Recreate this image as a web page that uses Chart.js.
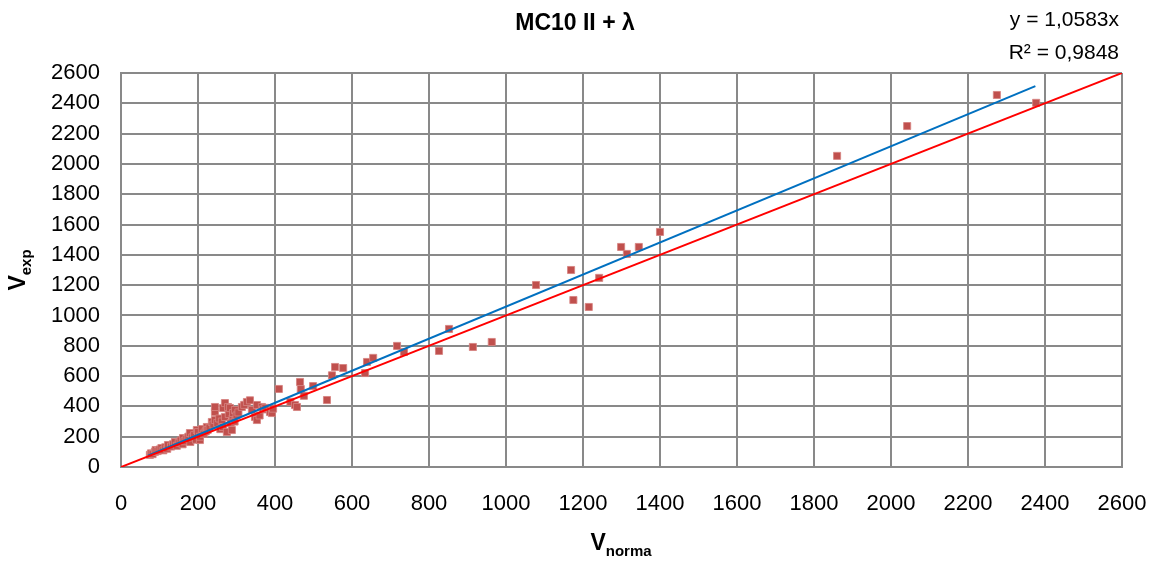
<!DOCTYPE html>
<html>
<head>
<meta charset="utf-8">
<script src="https://cdn.jsdelivr.net/npm/chart.js@4/dist/chart.umd.min.js"></script>
<style>
  html, body { margin:0; padding:0; background:#fff; }
  #wrap { width:1160px; height:561px; position:relative; }
</style>
</head>
<body>
<div id="wrap"><canvas id="c"></canvas></div>
<script>
// measured points: [V_norma, V_exp]
const POINTS = [
  [75,80],[78,90],[82,85],[88,100],[90,112],[95,105],[100,115],[105,125],[110,110],[115,130],
  [120,120],[122,145],[130,135],[135,150],[140,165],[145,140],[150,160],[155,175],[160,150],[161,191],
  [165,170],[170,185],[175,200],[179,224],[180,165],[185,195],[190,210],[195,180],[197,244],[200,230],
  [205,178],[205,200],[210,250],[215,220],[220,235],[223,264],[225,245],[230,260],[236,297],[240,280],
  [244,310],[244,363],[244,396],[250,290],[255,320],[258,250],[262,300],[265,264],[265,389],[270,330],
  [270,422],[275,231],[278,396],[280,350],[283,389],[285,290],[288,244],[290,320],[291,356],[295,300],
  [296,376],[300,340],[305,360],[314,396],[320,410],[327,429],[335,440],[340,376],[348,330],[353,310],
  [353,409],[360,340],[366,396],[369,380],[375,390],[387,363],[392,356],[395,385],[410,515],[440,430],
  [452,409],[457,396],[465,561],[467,514],[475,470],[499,534],[535,442],[548,605],[556,660],[577,653],
  [634,620],[639,693],[655,720],
  [717,799],[735,759],[826,766],[852,911],[914,792],[963,825],[1078,1201],[1169,1300],[1175,1102],
  [1215,1056],[1242,1248],[1299,1452],[1314,1406],[1345,1452],[1400,1551],[1860,2053],[2042,2250],
  [2275,2455],[2377,2403]
];
// trendline y = 1,0583x, ends
const TREND = [[70,74],[2375,2513]];
// y = x reference line
const IDENTITY = [[0,0],[2600,2600]];
const TICK_STEP = 200;
const AXIS_MAX = 2600;

const FONT = "'Liberation Sans', Arial, sans-serif";
const GRID = '#898989';

const toXY = arr => arr.map(([x,y]) => ({x, y}));

const textPlugin = {
  id: 'texts',
  afterDraw(chart) {
    const ctx = chart.ctx;
    ctx.save();
    ctx.fillStyle = '#000';
    ctx.textBaseline = 'middle';

    // title
    ctx.font = `bold 23px ${FONT}`;
    ctx.textAlign = 'center';
    ctx.fillText('MC10 II + λ', 575, 24);

    // trendline equation
    ctx.font = `21px ${FONT}`;
    ctx.textAlign = 'right';
    ctx.fillText('y = 1,0583x', 1119, 20);
    ctx.fillText('R² = 0,9848', 1119, 53);

    // x axis title
    ctx.textAlign = 'left';
    ctx.font = `bold 23px ${FONT}`;
    const vw = ctx.measureText('V').width;
    ctx.font = `bold 15px ${FONT}`;
    const nw = ctx.measureText('norma').width;
    const x0 = 621 - (vw + nw) / 2;
    ctx.font = `bold 23px ${FONT}`;
    ctx.fillText('V', x0, 544);
    ctx.font = `bold 15px ${FONT}`;
    ctx.fillText('norma', x0 + vw, 552);

    // y axis title
    ctx.translate(19, 270);
    ctx.rotate(-Math.PI / 2);
    ctx.font = `bold 23px ${FONT}`;
    const vw2 = ctx.measureText('V').width;
    ctx.font = `bold 15px ${FONT}`;
    const ew = ctx.measureText('exp').width;
    const y0 = -(vw2 + ew) / 2;
    ctx.font = `bold 23px ${FONT}`;
    ctx.fillText('V', y0, 0);
    ctx.font = `bold 15px ${FONT}`;
    ctx.fillText('exp', y0 + vw2, 8);
    ctx.restore();
  }
};

const tickOpts = (pad) => ({
  stepSize: TICK_STEP, color:'#000', padding: pad, maxRotation: 0,
  font:{ family: FONT, size: 22 },
  callback: v => String(v),
});

const axis = (extra) => Object.assign({
  type: 'linear',
  min: 0, max: AXIS_MAX,
  grid: { color: GRID, lineWidth: 2, drawTicks: false },
  border: { display: true, color: GRID, width: 2 },
}, extra);

new Chart(document.getElementById('c'), {
  type: 'scatter',
  data: {
    datasets: [
      { label:'data', data: toXY(POINTS), pointStyle:'rect', pointRadius:5,
        backgroundColor:'#C0504D', borderColor:'rgba(214,130,128,0.85)', borderWidth:1, order:3 },
      { label:'trend', data: toXY(TREND), showLine:true, borderColor:'#0070C0', borderWidth:2,
        pointRadius:0, order:2 },
      { label:'identity', data: toXY(IDENTITY), showLine:true, borderColor:'#FF0000', borderWidth:2,
        pointRadius:0, order:1 },
    ],
  },
  options: {
    responsive:true, maintainAspectRatio:false, animation:false,
    layout:{ padding:{ top:73, right:38, left:0, bottom:0 } },
    plugins:{ legend:{ display:false }, tooltip:{ enabled:false } },
    scales:{
      x: axis({ afterFit: s => { s.height = 94; s.paddingLeft = 0; s.paddingRight = 0; }, ticks: tickOpts(24) }),
      y: axis({ afterFit: s => { s.width = 121; s.paddingTop = 0; s.paddingBottom = 0; }, ticks: tickOpts(21) }),
    },
  },
  plugins:[textPlugin],
});
</script>
</body>
</html>
